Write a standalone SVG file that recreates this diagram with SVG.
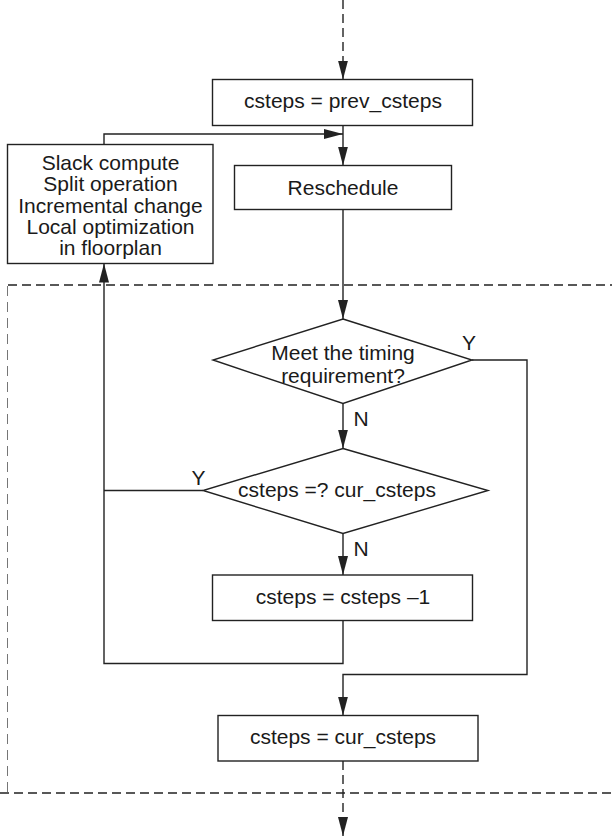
<svg xmlns="http://www.w3.org/2000/svg" width="612" height="839" viewBox="0 0 612 839">
<style>
.box{fill:#fff;stroke:#222;stroke-width:1.4}
.ln{fill:none;stroke:#222;stroke-width:1.4}
.dash{fill:none;stroke:#222;stroke-width:1.4;stroke-dasharray:9,5}
.thin{fill:none;stroke:#666;stroke-width:0.9;stroke-dasharray:10,6}
text{font-family:"Liberation Sans",Arial,sans-serif;font-size:21px;fill:#1a1a1a}
.c{text-anchor:middle}
</style>
<defs>
<marker id="ah" markerUnits="userSpaceOnUse" markerWidth="20" markerHeight="10" refX="19" refY="5" orient="auto">
<path d="M0,0 L19,5 L0,10 z" fill="#222"/>
</marker>
</defs>
<g id="frame">
<line class="dash" x1="8" y1="285" x2="612" y2="285"/>
<line class="dash" x1="0" y1="793" x2="612" y2="793"/>
<line class="thin" x1="7.5" y1="286" x2="7.5" y2="792"/>
</g>
<g id="connectors">
<line class="dash" x1="343" y1="0" x2="343" y2="79.5" marker-end="url(#ah)"/>
<line class="ln" x1="343" y1="125.5" x2="343" y2="165.5" marker-end="url(#ah)"/>
<polyline class="ln" points="104,144.5 104,134 343,134" marker-end="url(#ah)"/>
<line class="ln" x1="343" y1="209.5" x2="343" y2="319" marker-end="url(#ah)"/>
<line class="ln" x1="343" y1="403.5" x2="343" y2="448.5" marker-end="url(#ah)"/>
<line class="ln" x1="343" y1="533.5" x2="343" y2="575" marker-end="url(#ah)"/>
<polyline class="ln" points="203,490.5 104,490.5"/>
<polyline class="ln" points="343,620.5 343,663.5 104,663.5 104,263.5" marker-end="url(#ah)"/>
<polyline class="ln" points="472,360 527,360 527,674.5 343,674.5 343,715.5" marker-end="url(#ah)"/>
<line class="dash" x1="343" y1="761" x2="343" y2="836" marker-end="url(#ah)"/>
</g>
<g id="n1">
<rect class="box" x="212.5" y="79.5" width="260" height="46"/>
<text class="c" x="343" y="107.5">csteps = prev_csteps</text>
</g>
<g id="n2">
<rect class="box" x="7.5" y="144.5" width="205.5" height="119"/>
<text class="c" x="110.5" y="169.5">Slack compute</text>
<text class="c" x="110.5" y="191">Split operation</text>
<text class="c" x="110.5" y="212.5">Incremental change</text>
<text class="c" x="110.5" y="233.5">Local optimization</text>
<text class="c" x="110.5" y="255">in floorplan</text>
</g>
<g id="n3">
<rect class="box" x="234.5" y="165.5" width="217" height="44"/>
<text class="c" x="343" y="195">Reschedule</text>
</g>
<g id="n4">
<polygon class="box" points="343,319 472,360 343,403.5 213,360"/>
<text class="c" x="343" y="360">Meet the timing</text>
<text class="c" x="343" y="383">requirement?</text>
<text class="c" x="469" y="350">Y</text>
<text class="c" x="361" y="426">N</text>
</g>
<g id="n5">
<polygon class="box" points="343,448.5 488,490.5 343,533.5 203,490.5"/>
<text class="c" x="337" y="497">csteps =? cur_csteps</text>
<text class="c" x="198.5" y="485">Y</text>
<text class="c" x="361" y="556">N</text>
</g>
<g id="n6">
<rect class="box" x="212.5" y="575" width="260" height="45.5"/>
<text class="c" x="343" y="603.5">csteps = csteps –1</text>
</g>
<g id="n7">
<rect class="box" x="218" y="715.5" width="260" height="45.5"/>
<text class="c" x="343" y="744">csteps = cur_csteps</text>
</g>
</svg>
